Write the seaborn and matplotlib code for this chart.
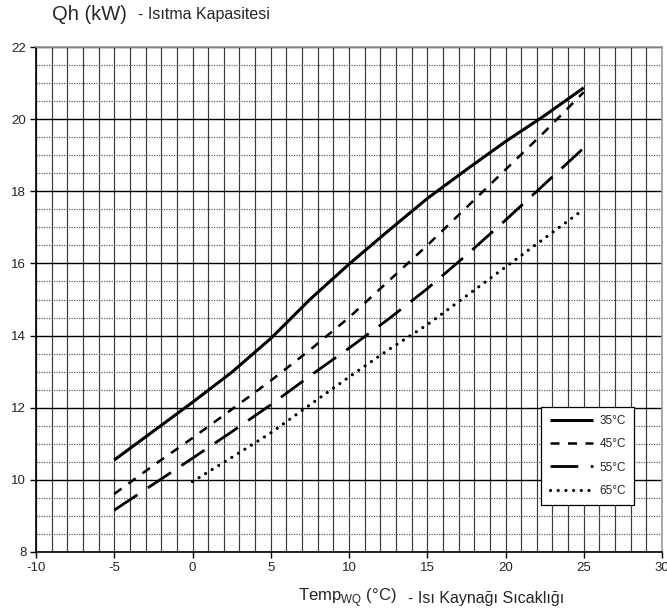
import matplotlib
matplotlib.use("Agg")
import numpy as np
import pandas as pd
import seaborn as sns
import matplotlib.pyplot as plt

# ---- data ----
temp_wq = [-5, -2.5, 0, 2.5, 5, 7.5, 10, 12.5, 15, 17.5, 20, 22.5, 25]
qh_35 = [10.55, 11.35, 12.15, 12.98, 13.92, 15.0, 15.98, 16.9, 17.8, 18.6, 19.38, 20.1, 20.87]
qh_45 = [9.61, 10.4, 11.16, 11.95, 12.75, 13.6, 14.5, 15.5, 16.5, 17.55, 18.6, 19.65, 20.75]
qh_55 = [9.16, 9.88, 10.6, 11.33, 12.08, 12.88, 13.65, 14.45, 15.3, 16.23, 17.2, 18.2, 19.2]
temp_wq_65 = [0, 2.5, 5, 7.5, 10, 12.5, 15, 17.5, 20, 22.5, 25]
qh_65 = [9.95, 10.62, 11.3, 12.08, 12.85, 13.6, 14.3, 15.1, 15.9, 16.7, 17.5]
series_labels = ["35°C", "45°C", "55°C", "65°C"]
x_ticks = [-10, -5, 0, 5, 10, 15, 20, 25, 30]
y_ticks = [8, 10, 12, 14, 16, 18, 20, 22]

sns.set_style("white")
plt.rcParams["font.family"] = ["Liberation Sans", "DejaVu Sans"]
plt.rcParams["axes.unicode_minus"] = False

fig = plt.figure(figsize=(6.67, 6.16), dpi=100)
W, H = 667, 616
L, R, T, B = 36, 662, 47, 552
ax = fig.add_axes([L / W, 1 - B / H, (R - L) / W, (B - T) / H])

styles = [
    dict(linewidth=2.2, linestyle="-", solid_capstyle="butt"),
    dict(linewidth=1.8, linestyle=(0, (3.6, 3.4)), dash_capstyle="butt"),
    dict(linewidth=2.0, linestyle=(0, (10, 4.5)), dash_capstyle="butt"),
    dict(linewidth=2.3, linestyle=(0, (0.01, 2.4)), dash_capstyle="round"),
]
xs = [temp_wq, temp_wq, temp_wq, temp_wq_65]
ys = [qh_35, qh_45, qh_55, qh_65]
for x, y, lab, st in zip(xs, ys, series_labels, styles):
    df = pd.DataFrame({"x": x, "y": y})
    sns.lineplot(data=df, x="x", y="y", ax=ax, color="black", label=lab, **st)

ax.set_xlim(-10, 30)
ax.set_ylim(8, 22)
ax.set_xticks(x_ticks)
ax.set_yticks(y_ticks)
ax.set_xticks(np.arange(-10, 31, 1), minor=True)
ax.set_yticks(np.arange(8, 22.01, 0.5), minor=True)
ax.grid(False)
ax.grid(True, which="minor", axis="x", color="#3a3a3a", linewidth=0.85)
ax.grid(True, which="major", axis="x", color="#3a3a3a", linewidth=0.85)
ax.grid(True, which="minor", axis="y", color="#606060", linewidth=0.9, linestyle=(0, (1, 1)))
ax.grid(True, which="major", axis="y", color="black", linewidth=1.0)
ax.set_axisbelow(True)

ax.tick_params(axis="both", which="major", direction="out", length=4, width=1,
               color="black", labelsize=9.5, pad=3, left=True, bottom=True)
ax.tick_params(axis="both", which="minor", length=0)
ax.set_xlabel("")
ax.set_ylabel("")

for s in ["left", "bottom"]:
    ax.spines[s].set_color("black")
    ax.spines[s].set_linewidth(1.2)
for s in ["top", "right"]:
    ax.spines[s].set_color("#999999")
    ax.spines[s].set_linewidth(1.2)
    ax.spines[s].set_visible(True)

leg = ax.legend(loc="lower right", bbox_to_anchor=((634 - L) / (R - L), (B - 505) / (B - T)),
                borderaxespad=0, frameon=True, fancybox=False, framealpha=1,
                edgecolor="black", fontsize=8.5, handlelength=3.7, labelspacing=0.95,
                handletextpad=0.5, borderpad=0.7)
leg.get_frame().set_linewidth(0.9)

# titles
fig.text(52 / W, 1 - 14 / H, "Qh (kW)", fontsize=14.5, va="center", ha="left")
fig.text(138 / W, 1 - 15 / H, "- Isıtma Kapasitesi", fontsize=11.5, va="center", ha="left")
fig.text(298 / W, 1 - 598 / H, r"Temp$_{\mathregular{WQ}}$ (°C)", fontsize=12, va="center", ha="left")
fig.text(408 / W, 1 - 598 / H, "- Isı Kaynağı Sıcaklığı", fontsize=11.5, va="center", ha="left")

fig.savefig("out.png", dpi=100)
